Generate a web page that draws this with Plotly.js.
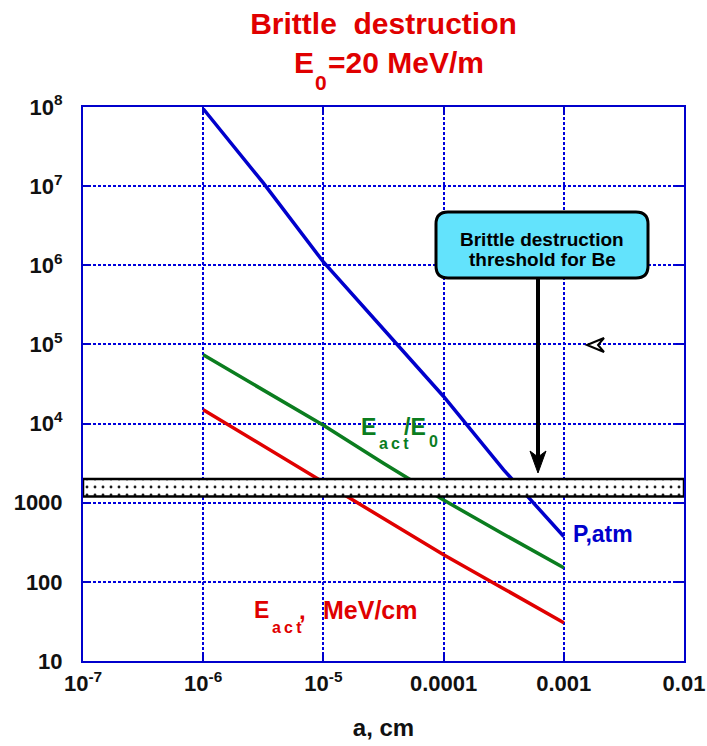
<!DOCTYPE html>
<html>
<head>
<meta charset="utf-8">
<script src="https://cdn.plot.ly/plotly-3.0.1.min.js"></script>
<style>html,body{margin:0;padding:0;background:#fff;}#chart{width:707px;height:746px;}</style>
</head>
<body>
<div id="chart"></div>
<script>
// ---- data ----
const aCm = [1e-6, 3.16e-6, 1e-5, 3.16e-5, 1e-4, 3.16e-4, 1e-3];
const pAtm = [9.5e7, 1.1e7, 1.1e6, 1.55e5, 2.2e4, 2600, 374];
const eActOverE0 = [74000, 26300, 9500, 3160, 1080, 400, 151];
const eActMeVcm = [15000, 5200, 1780, 630, 220, 82, 30.5];
const thresholdX = [1e-7, 1e-2];
const thresholdBand = [1200, 2000];
const xTickVals = [1e-7, 1e-6, 1e-5, 1e-4, 1e-3, 1e-2];
const xTickText = ['10<sup>-7</sup>', '10<sup>-6</sup>', '10<sup>-5</sup>', '0.0001', '0.001', '0.01'];
const yTickVals = [10, 100, 1000, 1e4, 1e5, 1e6, 1e7, 1e8];
const yTickText = ['10', '100', '1000', '10<sup>4</sup>', '10<sup>5</sup>', '10<sup>6</sup>', '10<sup>7</sup>', '10<sup>8</sup>'];

const FONT = 'Liberation Sans, Arial, Helvetica, sans-serif';
const AX = '#0000cc';
const BLUE = '#0000cc', GREEN = '#0b7d1f', RED = '#e00000', TRED = '#e00000';

const traces = [
  {x: aCm, y: pAtm, mode: 'lines', line: {color: BLUE, width: 3.5}, name: 'P,atm', hoverinfo: 'skip'},
  {x: aCm, y: eActOverE0, mode: 'lines', line: {color: GREEN, width: 3.5}, name: 'Eact/E0', hoverinfo: 'skip'},
  {x: aCm, y: eActMeVcm, mode: 'lines', line: {color: RED, width: 3.5}, name: 'Eact', hoverinfo: 'skip'},
  {
    x: [thresholdX[0], thresholdX[1], thresholdX[1], thresholdX[0], thresholdX[0]],
    y: [thresholdBand[0], thresholdBand[0], thresholdBand[1], thresholdBand[1], thresholdBand[0]],
    mode: 'lines', fill: 'toself', fillcolor: '#ffffff',
    fillpattern: {shape: '.', size: 8, solidity: 0.1, fgcolor: '#1a1a1a', bgcolor: '#ffffff', fillmode: 'replace'},
    line: {color: '#000000', width: 2.5}, name: 'threshold', hoverinfo: 'skip'
  }
];

function axisCommon() {
  return {
    type: 'log', showline: true, linecolor: AX, linewidth: 2, mirror: 'ticks',
    ticks: 'inside', ticklen: 8, tickwidth: 2, tickcolor: AX,
    showgrid: true, gridcolor: '#0000dd', gridwidth: 2, griddash: '3px,2px',
    zeroline: false, tickmode: 'array',
    tickfont: {family: FONT, size: 22, color: '#111111', weight: 'bold'}
  };
}

// paper helpers for pixel-placed decorations
const L = 83, R = 684, T = 107, B = 661;
const px = p => (p - L) / (R - L);
const py = p => (B - p) / (B - T);

const xaxis = Object.assign(axisCommon(), {
  range: [-7, -2], tickvals: xTickVals, ticktext: xTickText, ticklabelstandoff: 2,
  title: {text: 'a, cm', font: {family: FONT, size: 24, color: '#111111', weight: 'bold'}, standoff: 24}
});
const yaxis = Object.assign(axisCommon(), {
  range: [1, 8], tickvals: yTickVals, ticktext: yTickText, ticklabelstandoff: 14
});

const r = 12;
const bx0 = 436, bx1 = 648, by0 = 212, by1 = 278;
function roundRect(x0, y0, x1, y1, rr) {
  const P = (x, y) => px(x).toFixed(5) + ',' + py(y).toFixed(5);
  return 'M' + P(x0 + rr, y0) + ' L' + P(x1 - rr, y0) + ' Q' + P(x1, y0) + ' ' + P(x1, y0 + rr) +
    ' L' + P(x1, y1 - rr) + ' Q' + P(x1, y1) + ' ' + P(x1 - rr, y1) +
    ' L' + P(x0 + rr, y1) + ' Q' + P(x0, y1) + ' ' + P(x0, y1 - rr) +
    ' L' + P(x0, y0 + rr) + ' Q' + P(x0, y0) + ' ' + P(x0 + rr, y0) + ' Z';
}
function poly(pts) {
  return 'M' + pts.map(p => px(p[0]).toFixed(5) + ',' + py(p[1]).toFixed(5)).join(' L') + ' Z';
}

const shapes = [
  {type: 'path', xref: 'paper', yref: 'paper', path: roundRect(bx0, by0, bx1, by1, r),
   fillcolor: '#63e3fc', line: {color: '#000000', width: 3}},
  {type: 'line', xref: 'paper', yref: 'paper', x0: px(538), x1: px(538), y0: py(by1 + 1), y1: py(458),
   line: {color: '#000000', width: 4}},
  {type: 'path', xref: 'paper', yref: 'paper', path: poly([[538, 473], [530, 451], [538, 457], [546, 451]]),
   fillcolor: '#000000', line: {color: '#000000', width: 1}},
  {type: 'path', xref: 'paper', yref: 'paper', path: poly([[587, 345], [604, 338], [598, 345], [604, 352]]),
   fillcolor: '#ffffff', line: {color: '#000000', width: 2}}
];

function txt(text, xPix, yPix, size, color, anchor) {
  return {xref: 'paper', yref: 'paper', x: px(xPix), y: py(yPix), xanchor: anchor || 'left', yanchor: 'middle',
          showarrow: false, text: text, font: {family: FONT, size: size, color: color, weight: 'bold'}};
}

const annotations = [
  // title line 2: E0=20 MeV/m
  txt('E', 292, 63, 30, TRED),
  txt('0', 313, 82, 21, TRED),
  txt('=20 MeV/m', 326, 63, 30, TRED),
  // callout
  txt('Brittle destruction', 542, 239, 19, '#000000', 'center'),
  txt('threshold for Be', 542, 259, 19, '#000000', 'center'),
  // curve labels
  txt('P,atm', 571, 534, 23, BLUE),
  txt('E', 359, 427, 23, GREEN),
  txt('a\u2009c\u2009t', 377, 443, 16, GREEN),
  txt('/E', 402, 427, 23, GREEN),
  txt('0', 427, 442, 16, GREEN),
  txt('E', 252, 610, 23, RED),
  txt('a\u2009c\u2009t', 270, 627, 16, RED),
  txt(',', 297, 610, 24, RED),
  txt('MeV/cm', 419, 610, 25, RED, 'right')
];

const layout = {
  width: 707, height: 746,
  margin: {l: L, r: 707 - R, t: T, b: 746 - B, pad: 0},
  paper_bgcolor: '#ffffff', plot_bgcolor: '#ffffff',
  showlegend: false,
  title: {text: 'Brittle\u00a0\u00a0destruction', x: 0.5, xref: 'paper', xanchor: 'center',
          y: 1 - 23 / 746, yref: 'container', yanchor: 'middle',
          font: {family: FONT, size: 30, color: TRED, weight: 'bold'}},
  xaxis: xaxis, yaxis: yaxis,
  shapes: shapes, annotations: annotations,
  font: {family: FONT}
};

Plotly.newPlot('chart', traces, layout, {displayModeBar: false, staticPlot: true});
</script>
</body>
</html>
